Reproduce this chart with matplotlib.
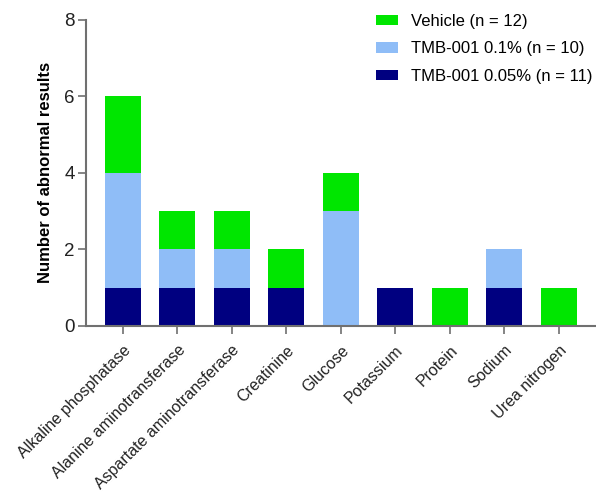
import matplotlib.pyplot as plt
import numpy as np

plt.rcParams['font.family'] = ['Liberation Sans', 'DejaVu Sans']

categories = ["Alkaline phosphatase", "Alanine aminotransferase",
              "Aspartate aminotransferase", "Creatinine", "Glucose",
              "Potassium", "Protein", "Sodium", "Urea nitrogen"]
tmb_005 = [1, 1, 1, 1, 0, 1, 0, 1, 0]
tmb_01 = [3, 1, 1, 0, 3, 0, 0, 1, 0]
vehicle = [2, 1, 1, 1, 1, 0, 1, 0, 1]

labels = ["Vehicle (n = 12)", "TMB-001 0.1% (n = 10)", "TMB-001 0.05% (n = 11)"]
c_green = "#00e600"
c_blue = "#8fbdf7"
c_navy = "#000080"

fig = plt.figure(figsize=(5.96, 4.96), dpi=100)
ax = fig.add_axes([0.144, 0.343, 0.856, 0.617])

x = np.arange(len(categories))
w = 0.66
b1 = ax.bar(x, tmb_005, w, color=c_navy, label=labels[2])
b2 = ax.bar(x, tmb_01, w, bottom=tmb_005, color=c_blue, label=labels[1])
base = np.array(tmb_005) + np.array(tmb_01)
b3 = ax.bar(x, vehicle, w, bottom=base, color=c_green, label=labels[0])

ax.set_xlim(-0.68, 8.68)
ax.set_ylim(0, 8)
ax.set_yticks([0, 2, 4, 6, 8])
ax.set_xticks(x)
ax.set_xticklabels(categories, rotation=45, ha='right', rotation_mode='anchor',
                   fontsize=11.5)
ax.tick_params(axis='y', labelsize=13.5, pad=2)
ax.tick_params(axis='x', pad=6)
ax.tick_params(colors='#707070', width=1.2, length=6, labelcolor='#222222')

for s in ['top', 'right']:
    ax.spines[s].set_visible(False)
for s in ['left', 'bottom']:
    ax.spines[s].set_color('#707070')
    ax.spines[s].set_linewidth(1.5)

ax.set_ylabel("Number of abnormal results", fontsize=12, fontweight='bold',
              labelpad=8)

ax.legend([b3, b2, b1], labels, loc='upper left', bbox_to_anchor=(0.569, 1.02),
          frameon=False, fontsize=12, handlelength=1.3, handleheight=0.6,
          labelspacing=0.75, handletextpad=0.78, borderpad=0, borderaxespad=0)

fig.savefig("out.png", dpi=100)
